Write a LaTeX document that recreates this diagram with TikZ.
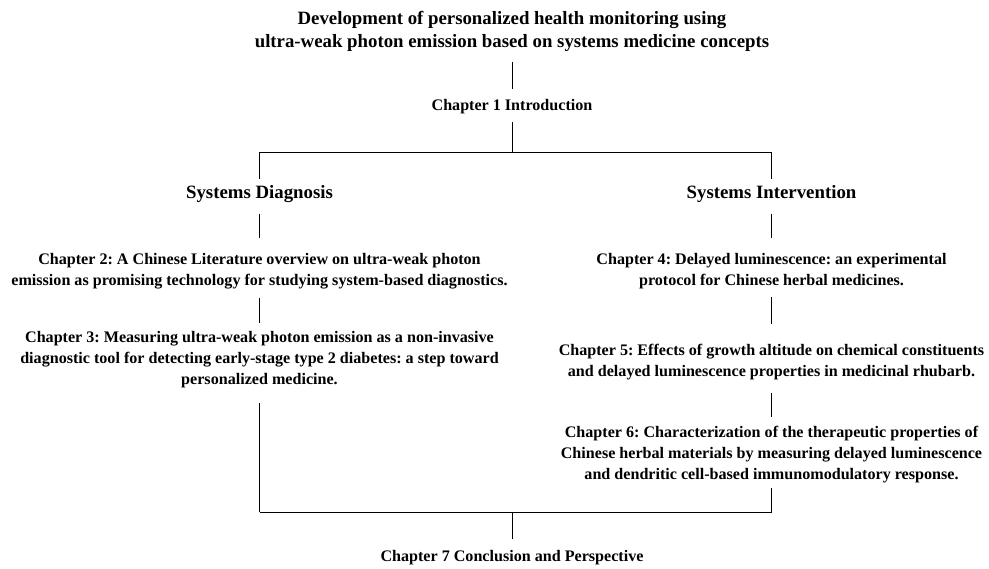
\documentclass[tikz,border=0pt]{standalone}
\usepackage{fontspec}
\setmainfont{Liberation Serif}
\begin{document}
\begin{tikzpicture}[x=1pt,y=-1pt,
  chap/.style={align=center,inner sep=0pt,font=\bfseries\frenchspacing\fontsize{16.1}{21}\selectfont},
  big/.style={align=center,inner sep=0pt,font=\bfseries\frenchspacing\fontsize{18.8}{23.5}\selectfont},
  link/.style={draw=black,line width=0.8pt},
  sh/.style 2 args={shorten <=#1,shorten >=#2}]
\useasboundingbox (0,0) rectangle (989,569);
\node[big] (title) at (512,31.5) {Development of personalized health monitoring using\\ultra-weak photon emission based on systems medicine concepts};
\node[chap] (ch1) at (512,107) {Chapter 1 Introduction};
\node[big] (diag) at (259.5,194) {Systems Diagnosis};
\node[big] (interv) at (771.5,194) {Systems Intervention};
\node[chap] (ch2) at (259.5,271.5) {Chapter 2: A Chinese Literature overview on ultra-weak photon\\emission as promising technology for studying system-based diagnostics.};
\node[chap] (ch3) at (259.5,360) {Chapter 3: Measuring ultra-weak photon emission as a non-invasive\\diagnostic tool for detecting early-stage type 2 diabetes: a step toward\\personalized medicine.};
\node[chap] (ch4) at (771.5,271.5) {Chapter 4: Delayed luminescence: an experimental\\protocol for Chinese herbal medicines.};
\node[chap] (ch5) at (771.5,362) {Chapter 5: Effects of growth altitude on chemical constituents\\and delayed luminescence properties in medicinal rhubarb.};
\node[chap] (ch6) at (771.5,455) {Chapter 6: Characterization of the therapeutic properties of\\Chinese herbal materials by measuring delayed luminescence\\and dendritic cell-based immunomodulatory response.};
\node[chap] (ch7) at (512,558) {Chapter 7 Conclusion and Perspective};
\coordinate (jt) at (512,152);
\coordinate (jL) at (259.5,152);
\coordinate (jR) at (771.5,152);
\coordinate (jBL) at (259.5,512);
\coordinate (jBR) at (771.5,512);
\coordinate (jB) at (512,512);
\draw[link,sh={10pt}{10pt}] (title) -- (ch1);
\draw[link,sh={8pt}{0pt}] (ch1) -- (jt);
\draw[link] (jL) -- (jR);
\draw[link,sh={0pt}{6pt}] (jL) -- (diag);
\draw[link,sh={0pt}{6pt}] (jR) -- (interv);
\draw[link,sh={11pt}{15pt}] (diag) -- (ch2);
\draw[link,sh={8pt}{8.5pt}] (ch2) -- (ch3);
\draw[link,sh={15pt}{0pt}] (ch3) -- (jBL);
\draw[link,sh={11pt}{15pt}] (interv) -- (ch4);
\draw[link,sh={8pt}{19.5pt}] (ch4) -- (ch5);
\draw[link,sh={12.5pt}{9.5pt}] (ch5) -- (ch6);
\draw[link,sh={4pt}{0pt}] (ch6) -- (jBR);
\draw[link] (jBL) -- (jBR);
\draw[link,sh={0pt}{12pt}] (jB) -- (ch7);
\end{tikzpicture}
\end{document}
